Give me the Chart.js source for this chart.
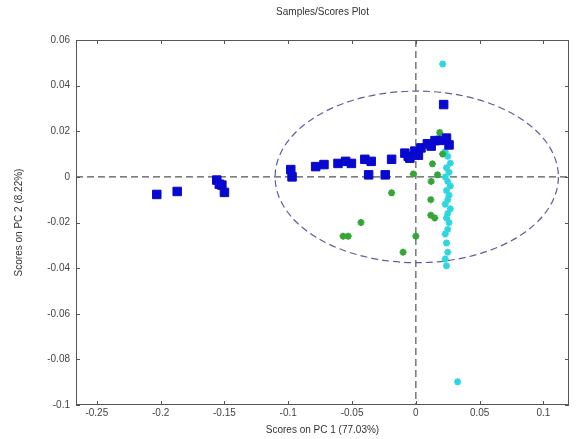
<!DOCTYPE html>
<html>
<head>
<meta charset="utf-8">
<script src="https://cdn.jsdelivr.net/npm/chart.js@4"></script>
<style>
  html, body { margin: 0; padding: 0; background: #fff; }
  #wrap { width: 576px; height: 439px; }
</style>
</head>
<body>
<div id="wrap"><canvas id="chart" width="576" height="439"></canvas></div>
<script>
// scores
const blueX = [-0.203, -0.187, -0.156, -0.154, -0.152, -0.150, -0.098, -0.097, -0.0785, -0.072, -0.061, -0.055, -0.0505, -0.040, -0.035, -0.037, -0.024, -0.019, -0.0086, -0.006, -0.0047, -0.0008, 0.002, 0.004, 0.009, 0.012, 0.015, 0.019, 0.024, 0.026, 0.0218];
const blueY = [-0.0077, -0.0064, -0.0014, -0.0032, -0.0036, -0.0068, 0.0032, 0.0, 0.0045, 0.0054, 0.0059, 0.0068, 0.0059, 0.0077, 0.0068, 0.0009, 0.0009, 0.0077, 0.0104, 0.009, 0.0082, 0.0113, 0.0095, 0.0127, 0.0145, 0.0135, 0.0159, 0.016, 0.017, 0.014, 0.0317];

const greenX = [0.0187, 0.013, -0.002, 0.017, 0.012, 0.0117, 0.0117, 0.0148, 0.0, -0.019, -0.043, -0.057, -0.053, -0.010, 0.021];
const greenY = [0.0195, 0.0057, 0.0013, 0.0009, -0.002, -0.010, -0.0168, -0.018, -0.026, -0.0070, -0.020, -0.026, -0.026, -0.033, 0.010];

const cyanX = [0.021, 0.0327, 0.024, 0.026, 0.023, 0.025, 0.027, 0.024, 0.026, 0.023, 0.025, 0.027, 0.024, 0.026, 0.025, 0.023, 0.027, 0.025, 0.024, 0.026, 0.025, 0.023, 0.024, 0.025, 0.023, 0.024];
const cyanY = [0.0495, -0.0898, 0.017, 0.014, 0.011, 0.009, 0.006, 0.004, 0.002, 0.0, -0.002, -0.004, -0.006, -0.008, -0.010, -0.012, -0.014, -0.016, -0.018, -0.020, -0.023, -0.025, -0.029, -0.033, -0.036, -0.039];

const xTicks = [-0.25, -0.2, -0.15, -0.1, -0.05, 0, 0.05, 0.1];
const yTicks = [0.06, 0.04, 0.02, 0, -0.02, -0.04, -0.06, -0.08, -0.1];

// 95% confidence ellipse
const ellipseCenter = [0.0007, 0];
const ellipseRadii = [0.111, 0.0376];

const toPoints = (xs, ys) => xs.map((x, i) => ({ x: x, y: ys[i] }));

const frame = {
    id: 'frame',
    beforeDatasetsDraw(chart) {
        const { ctx, chartArea: a, scales: { x, y } } = chart;
        ctx.save();
        ctx.beginPath();
        ctx.rect(a.left, a.top, a.right - a.left, a.bottom - a.top);
        ctx.clip();
        ctx.setLineDash([7, 4]);
        ctx.lineWidth = 1.2;
        ctx.strokeStyle = '#555';
        ctx.beginPath();
        ctx.moveTo(a.left, y.getPixelForValue(0));
        ctx.lineTo(a.right, y.getPixelForValue(0));
        ctx.moveTo(x.getPixelForValue(0), a.top);
        ctx.lineTo(x.getPixelForValue(0), a.bottom);
        ctx.stroke();

        const cx = x.getPixelForValue(ellipseCenter[0]);
        const cy = y.getPixelForValue(ellipseCenter[1]);
        const rx = x.getPixelForValue(ellipseCenter[0] + ellipseRadii[0]) - cx;
        const ry = cy - y.getPixelForValue(ellipseCenter[1] + ellipseRadii[1]);
        ctx.strokeStyle = '#5d5f9a';
        ctx.beginPath();
        ctx.ellipse(cx, cy, rx, ry, 0, 0, Math.PI * 2);
        ctx.stroke();
        ctx.restore();
    },
    afterDraw(chart) {
        const { ctx, chartArea: a, scales: { x, y } } = chart;
        ctx.save();
        ctx.strokeStyle = '#555';
        ctx.lineWidth = 1;
        ctx.strokeRect(a.left + 0.5, a.top + 0.5, a.right - a.left - 1, a.bottom - a.top - 1);
        ctx.beginPath();
        xTicks.forEach(v => {
            const px = Math.round(x.getPixelForValue(v)) + 0.5;
            ctx.moveTo(px, a.bottom); ctx.lineTo(px, a.bottom - 4);
            ctx.moveTo(px, a.top); ctx.lineTo(px, a.top + 4);
        });
        yTicks.forEach(v => {
            const py = Math.round(y.getPixelForValue(v)) + 0.5;
            ctx.moveTo(a.left, py); ctx.lineTo(a.left + 4, py);
            ctx.moveTo(a.right, py); ctx.lineTo(a.right - 4, py);
        });
        ctx.stroke();
        ctx.restore();
    }
};

new Chart(document.getElementById('chart'), {
    type: 'scatter',
    data: {
        datasets: [
            {
                label: 'blue',
                data: toPoints(blueX, blueY),
                pointStyle: 'rect',
                pointRadius: 6,
                backgroundColor: '#0808cf',
                borderColor: '#0808cf',
                borderWidth: 1
            },
            {
                label: 'green',
                data: toPoints(greenX, greenY),
                pointStyle: 'star',
                pointRadius: 3.5,
                backgroundColor: '#35a635',
                borderColor: '#35a635',
                borderWidth: 2
            },
            {
                label: 'cyan',
                data: toPoints(cyanX, cyanY),
                pointStyle: 'star',
                pointRadius: 3.5,
                backgroundColor: '#2fd6df',
                borderColor: '#2fd6df',
                borderWidth: 2
            }
        ]
    },
    options: {
        responsive: false,
        animation: false,
        layout: { padding: { left: 8, right: 4, top: 2, bottom: 2 } },
        scales: {
            x: {
                type: 'linear',
                min: -0.2663,
                max: 0.12,
                afterBuildTicks: s => { s.ticks = xTicks.map(v => ({ value: v })); },
                afterFit: s => { s.height = 32; },
                grid: { display: false, drawTicks: false },
                border: { display: false },
                ticks: {
                    padding: 2,
                    color: '#444',
                    font: { family: 'Liberation Sans', size: 10 },
                    callback: v => String(v)
                },
                title: {
                    display: true,
                    text: 'Scores on PC 1 (77.03%)',
                    color: '#333',
                    font: { family: 'Liberation Sans', size: 10 },
                    padding: { top: 0, bottom: 1 }
                }
            },
            y: {
                type: 'linear',
                min: -0.1,
                max: 0.06,
                afterBuildTicks: s => { s.ticks = yTicks.map(v => ({ value: v })); },
                afterFit: s => { s.width = 68; },
                grid: { display: false, drawTicks: false },
                border: { display: false },
                ticks: {
                    padding: 6,
                    color: '#444',
                    font: { family: 'Liberation Sans', size: 10 },
                    callback: v => String(v)
                },
                title: {
                    display: true,
                    text: 'Scores on PC 2 (8.22%)',
                    color: '#333',
                    font: { family: 'Liberation Sans', size: 10 },
                    padding: { top: 5, bottom: 0 }
                }
            }
        },
        plugins: {
            legend: { display: false },
            tooltip: { enabled: false },
            title: {
                display: true,
                fullSize: false,
                text: 'Samples/Scores Plot',
                color: '#333',
                font: { family: 'Liberation Sans', size: 10, weight: 'normal' },
                padding: { top: 4, bottom: 22 }
            }
        }
    },
    plugins: [frame]
});
</script>
</body>
</html>
